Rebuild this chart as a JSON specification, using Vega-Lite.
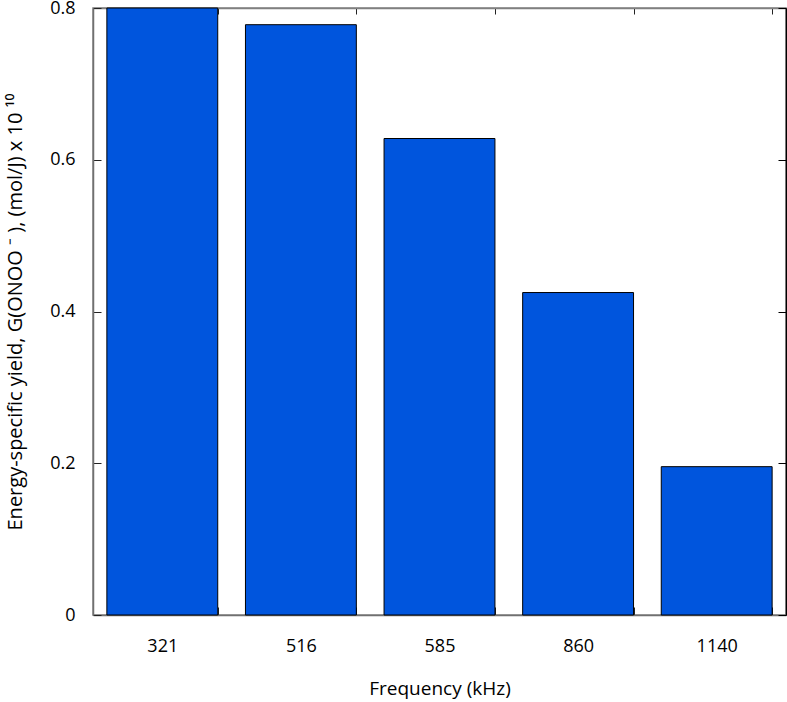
{
  "$schema": "https://vega.github.io/schema/vega-lite/v6.json",
  "autosize": "none",
  "width": 693,
  "height": 607,
  "padding": {"left": 93, "top": 8, "right": 1, "bottom": 87},
  "background": "white",
  "config": {
    "view": {"stroke": "#808080", "strokeWidth": 1.5},
    "font": "Open Sans"
  },
  "data": {
    "values": [
      {"freq": "321", "yield": 0.8},
      {"freq": "516", "yield": 0.778},
      {"freq": "585", "yield": 0.628},
      {"freq": "860", "yield": 0.425},
      {"freq": "1140", "yield": 0.1955}
    ]
  },
  "layer": [
    {
      "mark": {"type": "bar", "color": "#0055dd", "stroke": "black", "strokeWidth": 1},
      "encoding": {
        "x": {
          "field": "freq",
          "type": "nominal",
          "sort": null,
          "scale": {"paddingInner": 0.2, "paddingOuter": 0.1},
          "axis": {
            "orient": "bottom",
            "title": "Frequency (kHz)",
            "grid": false,
            "labelAngle": 0,
            "labelFont": "Open Sans",
            "titleFont": "Open Sans",
            "labelFontSize": 18,
            "titleFontSize": 19,
            "titleFontWeight": "normal",
            "labelColor": "black",
            "titleColor": "black",
            "domainColor": "#707070",
            "domainWidth": 1.5,
            "tickColor": "#222222",
            "tickWidth": 1,
            "tickBand": "extent",
            "tickSize": -8,
            "labelPadding": 30,
            "titlePadding": 24
          }
        },
        "y": {
          "field": "yield",
          "type": "quantitative",
          "scale": {"domain": [0, 0.8], "nice": false},
          "axis": {
            "orient": "left",
            "title": "Energy-specific yield, G(ONOO ⁻ ), (mol/J) x 10  ¹⁰",
            "grid": false,
            "values": [0, 0.2, 0.4, 0.6, 0.8],
            "labelExpr": "datum.value == 0 ? '0' : format(datum.value, '.1f')",
            "labelFont": "Open Sans",
            "titleFont": "Open Sans",
            "labelFontSize": 18,
            "titleFontSize": 20,
            "titleFontWeight": "normal",
            "labelColor": "black",
            "titleColor": "black",
            "domainColor": "#707070",
            "domainWidth": 1.5,
            "tickColor": "#222222",
            "tickSize": -8,
            "labelPadding": 26,
            "titlePadding": 24
          }
        }
      }
    },
    {
      "mark": {"type": "bar", "opacity": 0},
      "encoding": {
        "x": {
          "field": "freq",
          "type": "nominal",
          "sort": null,
          "scale": {"paddingInner": 0.2, "paddingOuter": 0.1},
          "axis": {
            "orient": "top",
            "title": null,
            "grid": false,
            "labels": false,
            "tickBand": "extent",
            "tickSize": -6,
            "tickColor": "#222222",
            "domainColor": "#808080",
            "domainWidth": 1.5
          }
        },
        "y": {
          "field": "yield",
          "type": "quantitative",
          "scale": {"domain": [0, 0.8], "nice": false},
          "axis": {
            "orient": "right",
            "title": null,
            "grid": false,
            "labels": false,
            "values": [0, 0.2, 0.4, 0.6, 0.8],
            "tickSize": -8,
            "tickColor": "black",
            "domainColor": "black",
            "domainWidth": 1.5
          }
        }
      }
    }
  ],
  "resolve": {"axis": {"x": "independent", "y": "independent"}}
}
